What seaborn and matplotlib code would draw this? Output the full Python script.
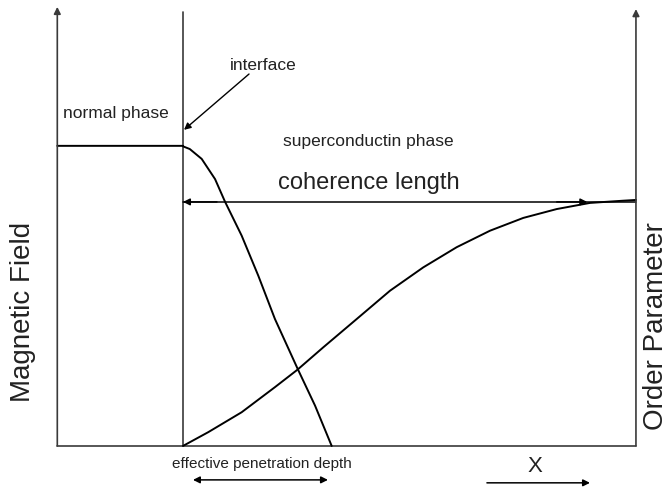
import numpy as np
import pandas as pd
import matplotlib
matplotlib.use("Agg")
import matplotlib.pyplot as plt
import seaborn as sns

# Values (x: interface at 0, right wall at 4; y: order parameter max = 1)
wall_left = -1.11
wall_right = 4.0
field_level = 1.22

field_x = [0.0, 0.06, 0.165, 0.283, 0.371, 0.518, 0.665, 0.812, 1.013, 1.166, 1.313]
field_y = [1.218, 1.207, 1.167, 1.085, 0.993, 0.855, 0.692, 0.516, 0.313, 0.164, 0.0]

order_x = [0.0, 0.223, 0.518, 0.812, 1.011, 1.239, 1.534, 1.828, 2.122, 2.417,
           2.711, 3.005, 3.300, 3.594, 3.888, 4.0]
order_y = [0.0, 0.056, 0.137, 0.239, 0.310, 0.401, 0.516, 0.631, 0.726, 0.808,
           0.875, 0.927, 0.963, 0.988, 0.997, 1.0]

normal_x = [wall_left, 0.0]
normal_y = [field_level, field_level]

field = pd.DataFrame({"x": normal_x + field_x, "y": normal_y + field_y})
order = pd.DataFrame({"x": order_x, "y": order_y})

sns.set_theme(style="white")
plt.rcParams["font.family"] = ["Liberation Sans", "DejaVu Sans"]

fig = plt.figure(figsize=(6.68, 4.89), dpi=100)
ax = fig.add_axes([0, 0, 1, 1])
ax.set_xlim(-1.616, 4.283)
ax.set_ylim(-0.171, 1.817)
ax.axis("off")

axis_col = "#3a3a3a"
txt_col = "#222222"

# frame lines
ax.plot([wall_left, wall_right], [0, 0], color=axis_col, lw=1.2)
ax.plot([0, 0], [0, 1.764], color=axis_col, lw=1.2)
arrow_kw = dict(arrowstyle="-|>", color=axis_col, lw=1.2, mutation_scale=10, shrinkA=0, shrinkB=0)
ax.annotate("", xy=(wall_left, 1.785), xytext=(wall_left, 0), arrowprops=arrow_kw)
ax.annotate("", xy=(wall_right, 1.776), xytext=(wall_right, 0), arrowprops=arrow_kw)

# curves
sns.lineplot(data=field, x="x", y="y", sort=False, estimator=None, color="black", lw=1.4, ax=ax)
sns.lineplot(data=order, x="x", y="y", sort=False, estimator=None, color="black", lw=1.4, ax=ax)

head = dict(arrowstyle="-|>", color="black", lw=1.1, mutation_scale=10, shrinkA=0, shrinkB=0)

# coherence length arrow
ax.plot([0, wall_right], [0.992, 0.992], color="black", lw=1.1)
ax.annotate("", xy=(0.0, 0.992), xytext=(0.3, 0.992), arrowprops=head)
ax.annotate("", xy=(3.57, 0.992), xytext=(3.3, 0.992), arrowprops=head)

# penetration depth and x arrows
ax.annotate("", xy=(1.28, -0.138), xytext=(0.088, -0.138),
            arrowprops=dict(head, arrowstyle="<|-|>"))
ax.annotate("", xy=(3.594, -0.150), xytext=(2.684, -0.150), arrowprops=head)

# interface pointer
ax.annotate("", xy=(0.009, 1.285), xytext=(0.583, 1.512), arrowprops=dict(head, lw=1.0))

# labels
ax.text(0.706, 1.549, "interface", ha="center", va="center", fontsize=12.5, color=txt_col)
ax.text(-0.592, 1.354, "normal phase", ha="center", va="center", fontsize=12.5, color=txt_col)
ax.text(1.634, 1.240, "superconductin phase", ha="center", va="center", fontsize=12.5, color=txt_col)
ax.text(1.642, 1.073, "coherence length", ha="center", va="center", fontsize=17, color=txt_col)
ax.text(0.698, -0.069, "effective penetration depth", ha="center", va="center", fontsize=11, color=txt_col)
ax.text(3.108, -0.081, "X", ha="center", va="center", fontsize=16, color=txt_col)
ax.text(-1.413, 0.549, "Magnetic Field", ha="center", va="center", rotation=90, fontsize=20, color=txt_col)
ax.text(4.176, 0.492, "Order Parameter", ha="center", va="center", rotation=90, fontsize=20, color=txt_col)

plt.savefig("out.png", dpi=100)
